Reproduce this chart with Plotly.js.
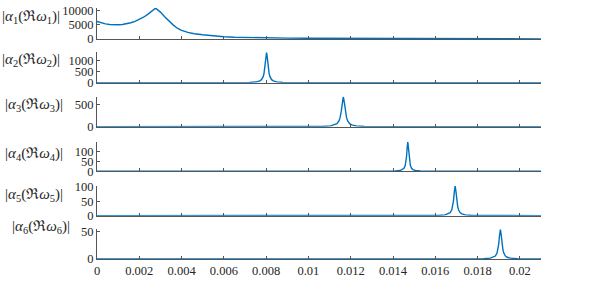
<!DOCTYPE html>
<html>
<head>
<meta charset="utf-8">
<script src="https://cdn.plot.ly/plotly-3.0.1.min.js"></script>
<style>html,body{margin:0;padding:0;background:#fff;}#chart{width:598px;height:284px;}</style>
</head>
<body>
<div id="chart"></div>
<script>
// ---- data ----
const x1 = [0,0.0002,0.0004,0.0006,0.0008,0.001,0.0012,0.0014,0.0016,0.0018,0.002,0.0022,0.0024,0.0026,0.0027,0.00275,0.0028,0.0029,0.003,0.0032,0.0034,0.0036,0.0038,0.004,0.0043,0.0046,0.005,0.0055,0.006,0.0065,0.007,0.008,0.009,0.01,0.011,0.012,0.013,0.014,0.015,0.016,0.017,0.018,0.019,0.02,0.021];
const y1 = [6200,5700,5350,5150,5050,5050,5150,5400,5750,6250,6900,7700,8700,9800,10400,10800,10700,10200,9500,7900,6300,5000,3800,3050,2350,1850,1500,1100,800,640,520,385,300,240,200,170,145,125,110,95,85,75,68,60,55];

const x2 = [0,0.002,0.004,0.0064,0.0072,0.00754,0.0077,0.00778,0.00786,0.0079,0.00794,0.00798,0.00802,0.00806,0.0081,0.00814,0.00818,0.00826,0.00834,0.0085,0.0088,0.0096,0.012,0.016,0.021];
const y2 = [0.2,0.3,0.6,3.4,13,38,82,140,280,431,700,1120,1400,1120,700,431,280,140,82,38,12,3.6,0.56,0.1,0.04];

const x3 = [0,0.004,0.00665,0.00965,0.01065,0.01105,0.01125,0.01135,0.01145,0.0115,0.01155,0.0116,0.01165,0.0117,0.01175,0.0118,0.01185,0.01195,0.01205,0.01225,0.01265,0.01365,0.01665,0.021];
const y3 = [0.05,0.12,0.28,1.7,6.8,19,41,69,138,213,346,553,691,553,346,213,138,69,41,19,6.8,1.7,0.28,0.08];

const x4 = [0,0.008,0.0117,0.0135,0.0141,0.01434,0.01446,0.01452,0.01458,0.01461,0.01464,0.01467,0.0147,0.01473,0.01476,0.01479,0.01482,0.01488,0.01494,0.01506,0.0153,0.0159,0.0177,0.021];
const y4 = [0.01,0.02,0.06,0.38,1.5,4.1,9,15.3,30.6,47,76.5,122,153,122,76.5,47,30.6,15.3,9,4.1,1.5,0.38,0.06,0.02];

const x5 = [0,0.008,0.01294,0.01534,0.01614,0.01646,0.01662,0.0167,0.01678,0.01682,0.01686,0.0169,0.01694,0.01698,0.01702,0.01706,0.0171,0.01718,0.01726,0.01742,0.01774,0.01854,0.021];
const y5 = [0.01,0.015,0.04,0.26,1.0,2.8,6.1,10.3,20.6,31.7,51.5,82.4,103,82.4,51.5,31.7,20.6,10.3,6.1,2.8,1.0,0.26,0.06];

const x6 = [0,0.008,0.01508,0.01748,0.01828,0.0186,0.01876,0.01884,0.01892,0.01896,0.019,0.01904,0.01908,0.01912,0.01916,0.0192,0.01924,0.01932,0.0194,0.01956,0.01988,0.021];
const y6 = [0.005,0.01,0.02,0.14,0.53,1.5,3.2,5.4,10.8,16.6,27,43.2,54,43.2,27,16.6,10.8,5.4,3.2,1.5,0.53,0.15];

const xTickVals = [0,0.002,0.004,0.006,0.008,0.01,0.012,0.014,0.016,0.018,0.02];
const xTickText = ['0','0.002','0.004','0.006','0.008','0.01','0.012','0.014','0.016','0.018','0.02'];

const yTicks = [[0,5000,10000],[0,500,1000],[0,500],[0,50,100],[0,50,100],[0,50]];
const yMax = [10960,1400,691,153,103,54];
const labels = [1,2,3,4,5,6].map(k => '|<i>α</i><sub>'+k+'</sub>(ℜ<i>ω</i><sub>'+k+'</sub>)|');

// ---- layout geometry (pixels) ----
const W = 598, H = 284, L = 97, R = 57, T = 8, B = 25;
const plotW = W - L - R, plotH = H - T - B;
const bottomPx = [39, 82.7, 126.7, 171.3, 215.7, 259];
const topPx = [8, 52.3, 96.7, 141.7, 186, 229.3];
const labelRightPx = [62, 62, 65, 65, 65, 72];
const labelYPx = [17, 60, 105, 154, 195, 227];

const xs = [x1,x2,x3,x4,x5,x6];
const ys = [y1,y2,y3,y4,y5,y6];
const lineColor = '#0072BD';
const axisColor = '#555555';
const serif = '"Liberation Serif", "DejaVu Serif", serif';
const tickFont = {family:serif, size:12.5, color:'#262626'};

const data = [];
const layout = {
  width: W, height: H,
  margin: {l:L, r:R, t:T, b:B},
  paper_bgcolor:'#ffffff', plot_bgcolor:'#ffffff',
  showlegend:false,
  font:{family:serif, size:12.5, color:'#262626'},
  annotations: []
};

for (let i=0;i<6;i++){
  const sfx = i===0 ? '' : String(i+1);
  data.push({x: xs[i], y: ys[i], type:'scatter', mode:'lines',
    line:{color:lineColor, width:1.4}, xaxis:'x'+sfx, yaxis:'y'+sfx, hoverinfo:'skip'});
  const yd0 = (H - B - bottomPx[i]) / plotH;
  const yd1 = (H - B - topPx[i]) / plotH;
  layout['xaxis'+sfx] = {
    domain:[0,1], anchor:'y'+sfx, range:[0,0.021],
    tickvals:xTickVals, ticktext:xTickText,
    showticklabels: i===5,
    ticks:'inside', ticklen:3, tickcolor:axisColor, tickwidth:1,
    showline:true, linecolor:axisColor, linewidth:1,
    showgrid:false, zeroline:false, tickfont:tickFont
  };
  layout['yaxis'+sfx] = {
    domain:[yd0, yd1], anchor:'x'+sfx, range:[0, yMax[i]],
    tickvals:yTicks[i], ticktext:yTicks[i].map(String),
    ticks:'inside', ticklen:3, tickcolor:axisColor, tickwidth:1,
    showline:true, linecolor:axisColor, linewidth:1,
    showgrid:false, zeroline:false, tickfont:tickFont
  };
  layout.annotations.push({
    text: labels[i], showarrow:false, xref:'paper', yref:'paper',
    x: (labelRightPx[i] - L)/plotW, y: (H - B - labelYPx[i])/plotH,
    xanchor:'right', yanchor:'middle',
    font:{family:serif, size:15, color:'#262626'}
  });
}

Plotly.newPlot('chart', data, layout, {displayModeBar:false, staticPlot:true});
</script>
</body>
</html>
